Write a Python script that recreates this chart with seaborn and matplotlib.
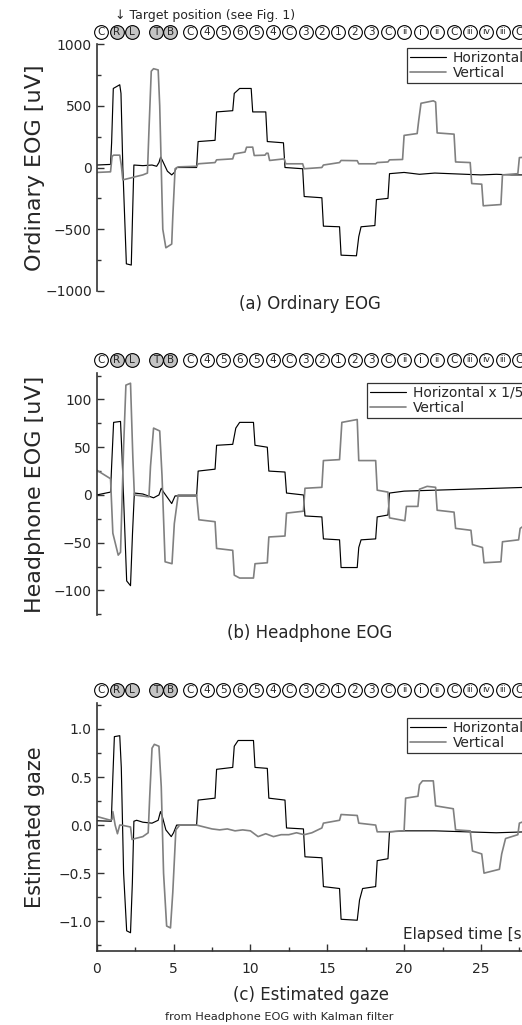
import numpy as np
import pandas as pd
import seaborn as sns
import matplotlib.pyplot as plt
from matplotlib.transforms import blended_transform_factory

# ---- data ----
# (a) ordinary EOG [uV]
ord_h_t = [0, 0.9, 0.97, 1.08, 1.5, 1.58, 1.7, 1.93, 2.25, 2.33, 2.42, 3.0, 3.6, 3.9, 4.05, 4.16, 4.3, 4.6, 4.88,
           5.05, 5.2, 6.5, 6.6, 7.7, 7.8, 8.85, 8.95, 9.3, 10.05, 10.15, 11.0, 11.1, 12.15, 12.25, 13.4, 13.5, 14.65,
           14.75, 15.8, 15.9, 16.9, 17.05, 17.2, 18.1, 18.2, 18.95, 19.05, 20.0, 21.0, 22.0, 23.0, 24.0, 25.0, 26.0,
           27.0, 28.0]
ord_h_v = [20, 25, 200, 640, 670, 600, 0, -780, -790, -400, 20, 15, 20, 10, 40, 85, 50, -30, -60, -40, 0, 0, 210,
           220, 450, 460, 600, 640, 640, 450, 450, 210, 200, 0, -10, -235, -245, -475, -480, -710, -715, -560, -480,
           -470, -260, -250, -50, -40, -55, -45, -50, -55, -60, -55, -60, -60]
ord_v_t = [0, 0.9, 1.0, 1.1, 1.5, 1.6, 1.7, 2.2, 2.5, 3.0, 3.3, 3.4, 3.55, 3.7, 4.0, 4.1, 4.3, 4.5, 4.88, 4.95, 5.1,
           5.3, 6.5, 6.6, 7.7, 7.8, 8.85, 8.95, 9.65, 9.75, 10.15, 10.25, 10.95, 11.05, 11.15, 11.25, 12.2, 12.3,
           13.4, 13.5, 14.65, 14.75, 15.8, 15.9, 16.95, 17.05, 18.15, 18.25, 18.95, 19.05, 19.9, 20.0, 20.85, 20.95,
           21.1, 21.9, 22.05, 22.15, 23.25, 23.35, 24.3, 24.4, 25.05, 25.15, 26.3, 26.4, 27.4, 27.5, 28.0]
ord_v_v = [-40, -35, 90, 100, 100, 20, -100, -85, -75, -60, -45, 300, 780, 800, 790, 500, -500, -650, -620, -400, -10,
           5, 10, 30, 40, 62, 70, 110, 125, 164, 165, 97, 100, 116, 115, 57, 70, 30, 30, -10, 0, 20, 40, 57, 55, 30, 30,
           40, 45, 62, 65, 260, 275, 380, 520, 540, 530, 280, 270, 45, 40, -130, -135, -310, -300, -60, -50, 80, 85]

# (b) headphone EOG [uV]
hp_h_t = [0, 0.9, 0.97, 1.1, 1.55, 1.65, 1.95, 2.2, 2.33, 2.45, 3.0, 3.7, 4.05, 4.2, 4.35, 4.88, 5.1, 6.5, 6.6, 7.7,
          7.8, 8.85, 9.05, 9.3, 10.2, 10.3, 11.1, 11.2, 12.25, 12.35, 13.45, 13.55, 14.65, 14.75, 15.8, 15.9, 16.95,
          17.05, 17.2, 18.15, 18.25, 18.95, 19.05, 20, 22, 24, 26, 28]
hp_h_v = [0, 3, 30, 76, 77, 40, -90, -95, -40, 2, 1, -3, 0, 7, 3, -9, -1, -1, 25, 27, 52, 53, 70, 76, 76, 52, 50, 25,
          24, 2, 0, -22, -23, -46, -47, -76, -76, -55, -47, -46, -23, -21, 2, 4, 5, 6, 7, 8]
hp_v_t = [0, 0.9, 1.05, 1.4, 1.55, 1.75, 1.9, 2.2, 2.35, 2.45,
          3.4, 3.5, 3.7, 4.1, 4.25, 4.45, 4.9, 5.05, 5.3, 6.5,
          6.65, 7.7, 7.8, 8.85, 8.95, 9.3, 10.2, 10.3, 11.1, 11.2,
          12.25, 12.35, 13.45, 13.55, 14.65, 14.75, 15.8, 15.95, 16.95, 17.05,
          18.15, 18.25, 18.95, 19.05, 20.05, 20.15, 20.9, 21.0, 21.5, 22.05,
          22.15, 23.25, 23.35, 24.35, 24.45, 25.1, 25.2, 26.3, 26.4, 27.45,
          27.55, 28]
hp_v_v = [26, 17, -40, -63, -60, 50, 115, 117, 40, 0,
          -2, 30, 70, 67, 20, -70, -72, -30, 0, 0,
          -26, -28, -56, -58, -84, -87, -87, -72, -71, -44,
          -43, -19, -17, 7, 8, 36, 37, 76, 79, 36,
          36, 5, 3, -24, -27, -12, -12, 6, 9, 8,
          -16, -18, -35, -37, -52, -55, -71, -70, -49, -47,
          -35, -30]

# (c) estimated gaze
est_h_t = [0, 0.95, 1.05, 1.15, 1.5, 1.6, 1.75, 1.95, 2.2, 2.32, 2.42, 2.6, 3.0, 3.6, 4.0, 4.15, 4.25, 4.5, 4.85,
           5.0, 5.2, 6.5, 6.6, 7.7, 7.8, 8.85, 8.95, 9.2, 10.2, 10.3, 11.1, 11.2, 12.25, 12.35, 13.45, 13.55, 14.65,
           14.75, 15.8, 15.9, 16.95, 17.1, 17.3, 18.15, 18.25, 18.95, 19.05, 20, 22, 24, 26, 28]
est_h_v = [0.045, 0.04, 0.5, 0.92, 0.93, 0.6, -0.5, -1.1, -1.12, -0.6, 0.04, 0.05, 0.03, 0.02, 0.05, 0.14, 0.1,
           -0.05, -0.12, -0.08, 0.0, 0.0, 0.26, 0.28, 0.58, 0.6, 0.82, 0.88, 0.88, 0.6, 0.59, 0.28, 0.26, -0.03,
           -0.04, -0.33, -0.34, -0.64, -0.66, -0.98, -0.99, -0.78, -0.66, -0.64, -0.37, -0.35, -0.07, -0.06, -0.06,
           -0.07, -0.08, -0.07]
est_v_t = [0, 0.9, 1.0, 1.05, 1.2, 1.35, 1.5, 1.6, 2.2, 2.3, 2.5, 3.0, 3.35, 3.45, 3.6, 3.75, 4.05, 4.2, 4.35, 4.55,
           4.8, 4.95, 5.15, 5.4, 6.0, 6.5, 7.0, 7.5, 8.0, 8.5, 9.0, 9.5, 10.0, 10.5, 11.0, 11.5, 12.0, 12.5, 13.0,
           13.5, 14.0, 14.65, 14.75, 15.8, 15.9, 16.95, 17.05, 18.15, 18.25, 19.0, 20.0, 20.1, 20.9, 21.0, 21.2, 21.9,
           22.05, 23.2, 23.35, 24.3, 24.45, 25.05, 25.2, 26.2, 26.35, 26.6, 27.4, 27.5, 28]
est_v_v = [0.09, 0.05, 0.06, 0.14, 0.0, -0.09, 0.0, 0.0, -0.02, -0.15, -0.14, -0.12, -0.08, 0.3, 0.8, 0.84, 0.82,
           0.4, -0.5, -1.05, -1.07, -0.7, -0.05, 0.0, 0.0, 0.0, -0.02, -0.04, -0.05, -0.04, -0.06, -0.05, -0.06,
           -0.12, -0.09, -0.12, -0.1, -0.1, -0.08, -0.1, -0.08, -0.03, 0.02, 0.05, 0.11, 0.1, 0.02, 0.0, -0.07,
           -0.07, -0.06, 0.28, 0.3, 0.42, 0.46, 0.46, 0.2, 0.17, -0.05, -0.06, -0.27, -0.3, -0.5, -0.46, -0.3, -0.14,
           -0.1, 0.02, 0.05]

# target labels on top of every panel
target_labels = ['C', 'R', 'L', 'T', 'B', 'C', '4', '5', '6', '5', '4', 'C', '3', '2', '1', '2', '3', 'C',
                 'ii', 'i', 'ii', 'C', 'iii', 'iv', 'iii', 'C']
target_times = [0.3, 1.3, 2.3, 3.85, 4.8, 6.1, 7.17, 8.24, 9.31, 10.38, 11.45, 12.52, 13.59, 14.66, 15.73, 16.8,
                17.87, 18.94, 20.01, 21.08, 22.15, 23.22, 24.29, 25.36, 26.43, 27.5]
shaded = ['R', 'L', 'T', 'B']

# ---- figure ----
sns.set_theme(style='white')
plt.rcParams['font.family'] = ['DejaVu Sans']

W, H = 522, 1025
fig = plt.figure(figsize=(W / 100, H / 100), dpi=100)

x0 = 96.7
px_per_s = 15.37
xmax = 35

def add_panel(top, bottom):
    return fig.add_axes([x0 / W, 1 - bottom / H, xmax * px_per_s / W, (bottom - top) / H])

panels = [
    dict(top=44, bottom=291, ylim=(-1000, 1000), major=500, minor=250, ylab='Ordinary EOG [uV]', ylab_fs=16,
         h=(ord_h_t, ord_h_v), v=(ord_v_t, ord_v_v), hname='Horizontal', circ_y=32,
         leg=(407, 48), fmt='{:.0f}'),
    dict(top=373, bottom=615, ylim=(-125.7, 127.7), major=50, minor=25, ylab='Headphone EOG [uV]', ylab_fs=16,
         h=(hp_h_t, hp_h_v), v=(hp_v_t, hp_v_v), hname='Horizontal x 1/5', circ_y=360,
         leg=(367, 383), fmt='{:.0f}'),
    dict(top=703, bottom=951, ylim=(-1.31, 1.27), major=0.5, minor=0.25, ylab='Estimated gaze', ylab_fs=15,
         h=(est_h_t, est_h_v), v=(est_v_t, est_v_v), hname='Horizontal', circ_y=690,
         leg=(407, 718), fmt='{:.1f}'),
]

for i, p in enumerate(panels):
    ax = add_panel(p['top'], p['bottom'])
    hdf = pd.DataFrame({'t': p['h'][0], 'v': p['h'][1]})
    vdf = pd.DataFrame({'t': p['v'][0], 'v': p['v'][1]})
    sns.lineplot(data=hdf, x='t', y='v', color='black', sort=False, estimator=None,
                 linewidth=0.85, label=p['hname'], ax=ax)
    sns.lineplot(data=vdf, x='t', y='v', color='#808080', sort=False, estimator=None,
                 linewidth=1.2, label='Vertical', ax=ax)
    ax.set_xlim(0, xmax)
    ax.set_ylim(*p['ylim'])
    ax.set_xlabel('')
    ax.set_ylabel(p['ylab'], fontsize=p['ylab_fs'])
    for s in ['top', 'right']:
        ax.spines[s].set_visible(False)
    ax.spines['left'].set_color('#333333')
    ax.spines['left'].set_linewidth(1.2)
    ax.yaxis.set_major_locator(plt.MultipleLocator(p['major']))
    ax.yaxis.set_minor_locator(plt.MultipleLocator(p['minor']))
    ax.set_yticks([t for t in ax.get_yticks() if p['ylim'][0] - 1e-9 <= t <= p['ylim'][1] + 1e-9])
    ax.set_yticklabels([p['fmt'].format(t).replace('-', '\u2212') for t in ax.get_yticks()])
    ax.tick_params(axis='y', which='both', direction='in', left=True, labelsize=10, color='#333333')
    ax.tick_params(axis='y', which='major', length=5, width=1)
    ax.tick_params(axis='y', which='minor', length=3, width=1)
    if i < 2:
        ax.spines['bottom'].set_visible(False)
        ax.set_xticks([])
    else:
        ax.spines['bottom'].set_color('#333333')
        ax.spines['bottom'].set_linewidth(1.2)
        ax.set_xticks([0, 5, 10, 15, 20, 25])
        ax.xaxis.set_minor_locator(plt.MultipleLocator(2.5))
        ax.tick_params(axis='x', which='both', direction='in', bottom=True, labelsize=10,
                       color='#333333', pad=8)
        ax.tick_params(axis='x', which='major', length=5, width=1)
        ax.tick_params(axis='x', which='minor', length=3, width=1)
    ax.yaxis.set_label_coords((45 - x0) / (xmax * px_per_s), 0.5)

    handles, labels = ax.get_legend_handles_labels()
    leg = ax.legend(handles, labels, loc='upper left',
                    bbox_to_anchor=(p['leg'][0] / W, 1 - p['leg'][1] / H),
                    bbox_transform=fig.transFigure, fontsize=10, frameon=True, fancybox=False,
                    borderpad=0.2, labelspacing=0.1, handlelength=2.6, handletextpad=0.5,
                    borderaxespad=0)
    leg.get_frame().set_edgecolor('black')
    leg.get_frame().set_linewidth(0.9)

    # circled target markers
    tr = blended_transform_factory(ax.transData, fig.transFigure)
    cy = 1 - p['circ_y'] / H
    for lab, tt in zip(target_labels, target_times):
        fc = '#c4c4c4' if lab in shaded else 'white'
        ax.scatter([tt], [cy], s=98, marker='o', facecolor=fc, edgecolor='black', linewidth=0.8,
                   transform=tr, clip_on=False, zorder=5)
        fs = {1: 7.5, 2: 6.5}.get(len(lab), 5.5)
        ax.text(tt, cy, lab, transform=tr, ha='center', va='center', fontsize=fs,
                zorder=6, clip_on=False)

fig.text(115 / W, 1 - 15 / H, '\u2193 Target position (see Fig. 1)', fontsize=9, ha='left', va='center')
fig.text(310 / W, 1 - 304 / H, '(a) Ordinary EOG', fontsize=12, ha='center', va='center')
fig.text(310 / W, 1 - 633 / H, '(b) Headphone EOG', fontsize=12, ha='center', va='center')
fig.text(311 / W, 1 - 995 / H, '(c) Estimated gaze', fontsize=12, ha='center', va='center')
fig.text(279 / W, 1 - 1017 / H, 'from Headphone EOG with Kalman filter', fontsize=8.2, ha='center', va='center')
fig.text(403 / W, 1 - 934 / H, 'Elapsed time [s]', fontsize=11, ha='left', va='center')

fig.savefig('out.png', dpi=100)
